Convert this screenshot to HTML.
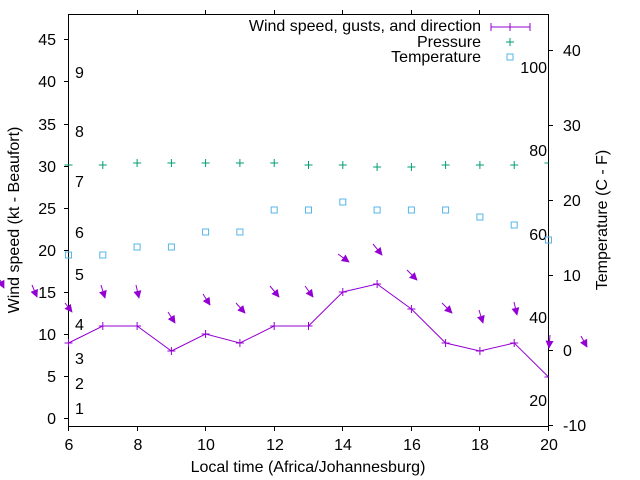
<!DOCTYPE html>
<html><head><meta charset="utf-8"><style>
body{margin:0;background:#fff}
svg{display:block;font-family:"Liberation Sans",sans-serif;font-size:16px}
</style></head><body>
<svg width="640" height="480" xmlns="http://www.w3.org/2000/svg">
<defs>
<marker id="ah" viewBox="0 0 10 10" refX="9" refY="5" markerWidth="8" markerHeight="8" orient="auto-start-reverse" markerUnits="userSpaceOnUse">
<path d="M0,0 L10,5 L0,10 z" fill="#9400d3"/></marker>
</defs>
<g stroke="#000" stroke-width="1" fill="none">
<rect x="68.5" y="14.5" width="480" height="412"/>
<path d="M64 418.5H68M64 376.5H68M64 334.5H68M64 292.5H68M64 250.5H68M64 208.5H68M64 166.5H68M64 124.5H68M64 81.5H68M64 39.5H68"/>
<path d="M549 425.5H553M549 350.5H553M549 275.5H553M549 200.5H553M549 125.5H553M549 50.5H553"/>
<path d="M68.5 427V431M137.5 427V431M205.5 427V431M274.5 427V431M342.5 427V431M411.5 427V431M479.5 427V431M548.5 427V431"/>
<path d="M137.5 14V10M205.5 14V10M274.5 14V10M342.5 14V10M411.5 14V10M479.5 14V10"/>
</g>
<g text-anchor="end" fill="#000">
<text x="56" y="424">0</text><text x="56" y="382">5</text><text x="56" y="340">10</text><text x="56" y="298">15</text><text x="56" y="256">20</text><text x="56" y="214">25</text><text x="56" y="172">30</text><text x="56" y="130">35</text><text x="56" y="87">40</text><text x="56" y="45">45</text>
<text x="547" y="73">100</text><text x="547" y="156">80</text><text x="547" y="240">60</text><text x="547" y="323">40</text><text x="547" y="406">20</text>
</g>
<g fill="#000">
<text x="563" y="431">-10</text><text x="563" y="356">0</text><text x="563" y="281">10</text><text x="563" y="206">20</text><text x="563" y="131">30</text><text x="563" y="56">40</text>
<text x="75" y="414">1</text><text x="75" y="389">2</text><text x="75" y="364">3</text><text x="75" y="330">4</text><text x="75" y="280">5</text><text x="75" y="238">6</text><text x="75" y="187">7</text><text x="75" y="137">8</text><text x="75" y="78">9</text>
</g>
<g text-anchor="middle" fill="#000">
<text x="69" y="450">6</text><text x="138" y="450">8</text><text x="206" y="450">10</text><text x="275" y="450">12</text><text x="343" y="450">14</text><text x="412" y="450">16</text><text x="480" y="450">18</text><text x="549" y="450">20</text>
<text x="308" y="472">Local time (Africa/Johannesburg)</text>
<text transform="translate(19,220) rotate(-90)">Wind speed (kt - Beaufort)</text>
<text transform="translate(607,220) rotate(-90)">Temperature (C - F)</text>
</g>
<g text-anchor="end" fill="#000">
<text x="481" y="31">Wind speed, gusts, and direction</text>
<text x="481" y="47">Pressure</text>
<text x="481" y="62">Temperature</text>
</g>
<g stroke="#9400d3" stroke-width="1" fill="none">
<path d="M491 27H530M491 23V31M530 23V31M510 23V31"/>
<polyline points="68.5,343 102.8,326 137.1,326 171.4,351 205.6,334 239.9,343 274.2,326 308.5,326 342.8,292 377.1,284 411.4,309 445.6,343 479.9,351 514.2,343 548.5,377"/>
<path d="M68.5 339V347M64.5 343H72.5M102.8 322V330M98.8 326H106.8M137.1 322V330M133.1 326H141.1M171.4 347V355M167.4 351H175.4M205.6 330V338M201.6 334H209.6M239.9 339V347M235.9 343H243.9M274.2 322V330M270.2 326H278.2M308.5 322V330M304.5 326H312.5M342.8 288V296M338.8 292H346.8M377.1 280V288M373.1 284H381.1M411.4 305V313M407.4 309H415.4M445.6 339V347M441.6 343H449.6M479.9 347V355M475.9 351H483.9M514.2 339V347M510.2 343H518.2M544.5 377H548.5"/>
<g marker-end="url(#ah)">
<line x1="0" y1="280" x2="4" y2="288"/>
<line x1="32" y1="285" x2="37" y2="297"/>
<line x1="65" y1="303" x2="72" y2="312"/>
<line x1="101" y1="285" x2="105" y2="298"/>
<line x1="136" y1="285" x2="139" y2="298"/>
<line x1="168" y1="312" x2="175" y2="323"/>
<line x1="203" y1="294" x2="210" y2="305"/>
<line x1="236" y1="303" x2="245" y2="313"/>
<line x1="270" y1="286" x2="279" y2="297"/>
<line x1="305" y1="286" x2="313" y2="297"/>
<line x1="338" y1="254" x2="349" y2="262"/>
<line x1="373" y1="244" x2="382" y2="255"/>
<line x1="407" y1="270" x2="417" y2="280"/>
<line x1="442" y1="303" x2="452" y2="313"/>
<line x1="479" y1="310" x2="483" y2="323"/>
<line x1="514" y1="302" x2="517" y2="315"/>
<line x1="550" y1="335" x2="549" y2="348"/>
<line x1="581" y1="336" x2="587" y2="347"/>
</g>
</g>
<g stroke="#009e73" stroke-width="1" fill="none">
<path d="M506 42H514M510 38V46"/>
<path d="M64.5 165H72.5M98.8 165H106.8M102.8 161V169M133.1 163H141.1M137.1 159V167M167.4 163H175.4M171.4 159V167M201.6 163H209.6M205.6 159V167M235.9 163H243.9M239.9 159V167M270.2 163H278.2M274.2 159V167M304.5 165H312.5M308.5 161V169M338.8 165H346.8M342.8 161V169M373.1 167H381.1M377.1 163V171M407.4 167H415.4M411.4 163V171M441.6 165H449.6M445.6 161V169M475.9 165H483.9M479.9 161V169M510.2 165H518.2M514.2 161V169M544.5 163H548.5"/>
</g>
<g stroke="#56b4e9" stroke-width="1" fill="none">
<rect x="507" y="54" width="6" height="6"/>
<rect x="65.5" y="252" width="6" height="6"/>
<rect x="99.8" y="252" width="6" height="6"/>
<rect x="134.1" y="244" width="6" height="6"/>
<rect x="168.4" y="244" width="6" height="6"/>
<rect x="202.6" y="229" width="6" height="6"/>
<rect x="236.9" y="229" width="6" height="6"/>
<rect x="271.2" y="207" width="6" height="6"/>
<rect x="305.5" y="207" width="6" height="6"/>
<rect x="339.8" y="199" width="6" height="6"/>
<rect x="374.1" y="207" width="6" height="6"/>
<rect x="408.4" y="207" width="6" height="6"/>
<rect x="442.6" y="207" width="6" height="6"/>
<rect x="476.9" y="214" width="6" height="6"/>
<rect x="511.2" y="222" width="6" height="6"/>
<rect x="545.5" y="237" width="6" height="6"/>
</g>
</svg>
</body></html>
